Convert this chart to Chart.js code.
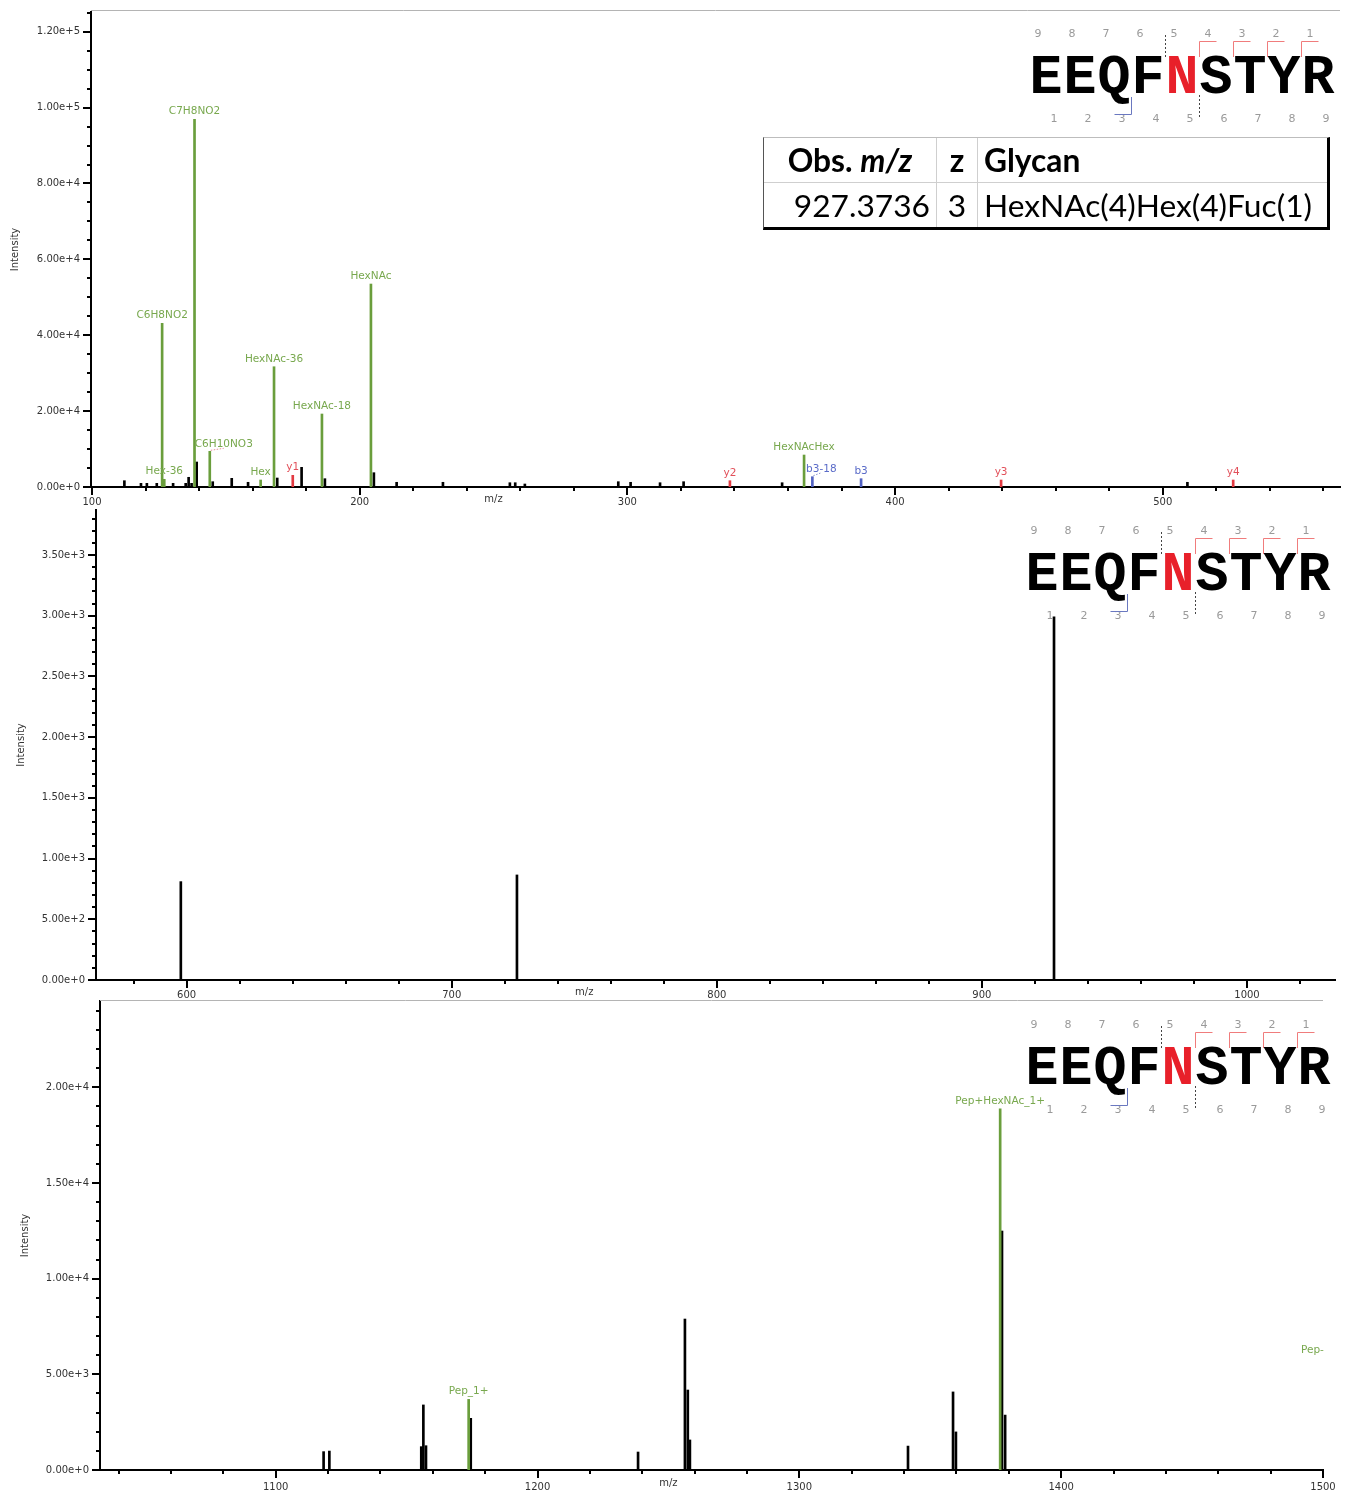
<!DOCTYPE html>
<html>
<head>
<meta charset="utf-8">
<title>EEQFNSTYR glycopeptide MS/MS spectrum</title>
<script src="https://cdn.jsdelivr.net/npm/chart.js@4.4.1/dist/chart.umd.min.js"></script>
<style>
  html, body { margin:0; padding:0; background:#fff; }
  body { width:1349px; height:1494px; position:relative; overflow:hidden; }
  canvas { position:absolute; left:0; }
  #tbl { position:absolute; left:763px; top:137px; width:567px; height:93px; box-sizing:border-box;
         border-top:1px solid #bdbdbd; border-left:1px solid #555; border-right:3px solid #000; border-bottom:3px solid #000;
         font-family: Lato, "Open Sans", sans-serif; color:#000; z-index:5; }
  #tbl .hl { position:absolute; left:0; right:0; top:44px; height:1px; background:#cfcfcf; }
  #tbl .vl { position:absolute; top:0; bottom:0; width:1px; background:#cfcfcf; }
  #tbl .cell { position:absolute; white-space:nowrap; height:44px; line-height:44px; }
  #tbl .h { font-weight:bold; }
</style>
</head>
<body>
<canvas id="c1" width="1349" height="510" style="top:0px"></canvas>
<canvas id="c2" width="1349" height="495" style="top:505px"></canvas>
<canvas id="c3" width="1349" height="498" style="top:996px"></canvas>
<div id="tbl">
  <div class="hl"></div>
  <div class="vl" style="left:172px"></div>
  <div class="vl" style="left:213px"></div>
  <div class="cell h" id="h1" style="left:0;width:172px;top:0;text-align:center"></div>
  <div class="cell h" id="h2" style="left:173px;width:40px;top:0;text-align:center"></div>
  <div class="cell h" id="h3" style="left:220px;top:0"></div>
  <div class="cell" id="d1" style="left:0;width:166px;top:45px;text-align:right"></div>
  <div class="cell" id="d2" style="left:173px;width:40px;top:45px;text-align:center"></div>
  <div class="cell" id="d3" style="left:220px;top:45px"><span id="d3s"></span></div>
</div>
<script>
// ---------------- data ----------------
// Peptide / identification
const peptideSeq = ['E','E','Q','F','N','S','T','Y','R'];
const glycoSite  = 4;            // N (0-based index)
const yIonsSeen  = [1, 2, 3, 4];
const bIonsSeen  = [3];
const tableHeaders = ['Obs. m/z', 'z', 'Glycan'];
const obsMz   = ['927.3736'];
const charge  = ['3'];
const glycan  = ['HexNAc(4)Hex(4)Fuc(1)'];

// Panel 1 (m/z 100-566)
const p1XTicks   = [100, 200, 300, 400, 500];
const p1YTicks   = [0, 20000, 40000, 60000, 80000, 100000, 120000];
const p1OtherMz  = [112.1,118.3,120.5,124.2,130.3,135.0,136.1,137.2,139.1,145.1,152.2,158.3,169.2,178.3,187.0,205.3,213.8,231.1,256.1,258.1,261.7,296.6,301.2,312.2,321.0,357.8,509.2];
const p1OtherInt = [1660,975,975,975,975,975,2560,975,6590,1400,2290,1240,2370,5190,2190,3770,1240,1240,1130,1130,790,1400,1240,1130,1400,1130,1240];
const p1GlyMz    = [126.2, 127.0, 138.3, 144.0, 163.0, 168.0, 185.9, 204.2, 366.0];
const p1GlyInt   = [43140, 2030, 96910, 9410, 1845, 31700, 19240, 53500, 8430];
const p1GlyLbl   = ['C6H8NO2','Hex-36','C7H8NO2','C6H10NO3','Hex','HexNAc-36','HexNAc-18','HexNAc','HexNAcHex'];
const p1YMz      = [175.0, 338.3, 439.6, 526.3];
const p1YInt     = [3080, 1660, 1845, 1845];
const p1YLbl     = ['y1','y2','y3','y4'];
const p1BMz      = [369.1, 387.3];
const p1BInt     = [2710, 2190];
const p1BLbl     = ['b3-18','b3'];

// Panel 2 (m/z 566-1033)
const p2XTicks   = [600, 700, 800, 900, 1000];
const p2YTicks   = [0, 500, 1000, 1500, 2000, 2500, 3000, 3500];
const p2OtherMz  = [597.8, 724.6, 927.2];
const p2OtherInt = [810, 865, 2990];

// Panel 3 (m/z 1033-1500)
const p3XTicks   = [1100, 1200, 1300, 1400, 1500];
const p3YTicks   = [0, 5000, 10000, 15000, 20000];
const p3OtherMz  = [1118.3,1120.5,1155.6,1156.4,1157.4,1174.5,1238.4,1256.3,1257.4,1258.2,1341.5,1358.7,1359.8,1377.4,1378.6];
const p3OtherInt = [960,990,1220,3400,1270,2700,940,7890,4180,1570,1250,4080,1990,12490,2870];
const p3GlyMz    = [1173.7, 1376.7];
const p3GlyInt   = [3690, 18870];
const p3GlyLbl   = ['Pep_1+', 'Pep+HexNAc_1+'];
const p3EdgeLbl  = ['Pep-'];
const p3EdgeMz   = [1491.6];
const p3EdgeInt  = [6270];

// ---------------- styles ----------------
const COL = {
  other: '#000000',
  gly: '#6a9e3c', glyText: '#78a84e',
  y: '#e23a42',   yText: '#e2505a',
  b: '#5262c2',   bText: '#5a6bc8'
};
const labelOffsets = {
  'C6H10NO3': { dx: 14, dy: 1, leader: '#e58f98' },
  'b3-18':    { dx: 9,  dy: 0, leader: '#8a94d0' }
};

Chart.defaults.font.family = '"DejaVu Sans", sans-serif';
Chart.defaults.font.size = 10;
Chart.defaults.color = '#333';

function drawPeptide(ctx, ox, oy) {
  const n = peptideSeq.length;
  const cx = i => 1046 + 34 * i + ox;
  ctx.save();
  ctx.textAlign = 'center';
  ctx.textBaseline = 'alphabetic';
  ctx.font = 'bold 55px "Liberation Mono"';
  peptideSeq.forEach((ch, i) => {
    ctx.fillStyle = i === glycoSite ? '#e8202a' : '#000';
    ctx.fillText(ch, cx(i), 93 + oy);
  });
  ctx.font = '11px "DejaVu Sans"';
  ctx.fillStyle = '#9a9a9a';
  ctx.textBaseline = 'middle';
  for (let i = 0; i < n; i++) {
    ctx.fillText(String(n - i), cx(i) - 8, 34 + oy);
    ctx.fillText(String(i + 1), cx(i) + 8, 119 + oy);
  }
  ctx.lineWidth = 1;
  ctx.strokeStyle = '#f07c7c';
  yIonsSeen.forEach(k => {
    const bx = Math.round(cx(n - k) - 17) + 0.5;
    ctx.beginPath(); ctx.moveTo(bx, 57 + oy); ctx.lineTo(bx, 41.5 + oy); ctx.lineTo(bx + 17, 41.5 + oy); ctx.stroke();
  });
  ctx.strokeStyle = '#6a78c0';
  bIonsSeen.forEach(k => {
    const bx = Math.round(cx(k) - 17) + 0.5;
    ctx.beginPath(); ctx.moveTo(bx, 97 + oy); ctx.lineTo(bx, 114.5 + oy); ctx.lineTo(bx - 17, 114.5 + oy); ctx.stroke();
  });
  ctx.strokeStyle = '#444';
  ctx.setLineDash([2, 2]);
  const tx = Math.round(cx(glycoSite) - 17) + 0.5;
  const bx2 = Math.round(cx(glycoSite) + 17) + 0.5;
  ctx.beginPath(); ctx.moveTo(tx, 35 + oy); ctx.lineTo(tx, 59 + oy); ctx.stroke();
  ctx.beginPath(); ctx.moveTo(bx2, 95 + oy); ctx.lineTo(bx2, 119 + oy); ctx.stroke();
  ctx.restore();
}

function makeDecor(p) {
  return {
    id: 'decor',
    afterDatasetsDraw(chart) {
      const { ctx, scales: { x, y } } = chart;
      ctx.save();
      ctx.font = '10.5px "DejaVu Sans"';
      ctx.textAlign = 'center';
      ctx.textBaseline = 'alphabetic';
      p.labelSets.forEach(s => {
        s.mz.forEach((m, i) => {
          const t = s.labels[i];
          const px = x.getPixelForValue(m), py = y.getPixelForValue(s.int[i]);
          const off = labelOffsets[t] || { dx: 0, dy: 0 };
          const lx = px + off.dx, ly = py - 5 + off.dy;
          if (off.leader) {
            ctx.save();
            ctx.strokeStyle = off.leader; ctx.lineWidth = 1; ctx.setLineDash([1.5, 1.5]);
            ctx.beginPath(); ctx.moveTo(px + 1, py - 1); ctx.lineTo(lx, ly + 1); ctx.stroke();
            ctx.restore();
          }
          ctx.fillStyle = s.color;
          ctx.fillText(t, lx, ly);
        });
      });
      if (p.edgeLabels) {
        ctx.textAlign = 'left';
        ctx.textBaseline = 'middle';
        ctx.fillStyle = COL.glyText;
        p.edgeLabels.labels.forEach((t, i) => {
          ctx.fillText(t, x.getPixelForValue(p.edgeLabels.mz[i]), y.getPixelForValue(p.edgeLabels.int[i]));
        });
      }
      ctx.restore();
    },
    afterDraw(chart) {
      const { ctx, chartArea: a, scales: { x, y } } = chart;
      ctx.save();
      ctx.strokeStyle = '#000';
      ctx.lineWidth = 2;
      // y ticks (major + minor)
      for (let v = 0; v <= y.max + 1e-6; v += p.yMinor) {
        const py = Math.round(y.getPixelForValue(v));
        const major = Math.abs(v / p.yStep - Math.round(v / p.yStep)) < 1e-6;
        const len = major ? 8 : 4;
        ctx.beginPath(); ctx.moveTo(a.left - len, py); ctx.lineTo(a.left, py); ctx.stroke();
      }
      // x ticks (major + minor)
      for (let v = Math.ceil(x.min / 20) * 20; v <= x.max + 1e-6; v += 20) {
        const px = Math.round(x.getPixelForValue(v));
        const major = v % 100 === 0;
        const len = major ? 8 : 4;
        ctx.beginPath(); ctx.moveTo(px, a.bottom); ctx.lineTo(px, a.bottom + len); ctx.stroke();
      }
      // top frame line
      if (p.topLine !== undefined) {
        ctx.strokeStyle = '#b4b4b4'; ctx.lineWidth = 1;
        ctx.beginPath(); ctx.moveTo(a.left, a.top - p.topLine + 0.5); ctx.lineTo(a.right, a.top - p.topLine + 0.5); ctx.stroke();
      }
      // x title
      ctx.fillStyle = '#333';
      ctx.font = '10px "DejaVu Sans"';
      ctx.textAlign = 'center';
      ctx.textBaseline = 'middle';
      ctx.fillText('m/z', x.getPixelForValue(p.titleAt), a.bottom + p.titleDy);
      ctx.restore();
      drawPeptide(ctx, p.pep[0], p.pep[1]);
    }
  };
}

function spectrum(id, p) {
  const datasets = p.series.map(s => ({
    label: s.name,
    data: s.mz.map((m, i) => ({ x: m, y: s.int[i] })),
    backgroundColor: s.color,
    borderWidth: 0,
    barThickness: 2,
    grouped: false,
    order: s.order
  }));
  return new Chart(document.getElementById(id), {
    type: 'bar',
    data: { datasets },
    options: {
      responsive: false,
      animation: false,
      devicePixelRatio: 1,
      events: [],
      layout: { padding: { left: 0, top: p.area.top, right: p.area.right, bottom: 0 } },
      plugins: { legend: { display: false }, tooltip: { enabled: false } },
      scales: {
        x: {
          type: 'linear', min: p.xMin, max: p.xMax, offset: false,
          grid: { display: false, drawTicks: false },
          border: { display: true, color: '#000', width: 2 },
          ticks: { autoSkip: false, maxRotation: 0, padding: p.xPad,
                   color: '#333', font: { size: 10 }, callback: v => String(v) },
          afterBuildTicks: s => { s.ticks = p.xTicks.map(v => ({ value: v })); },
          afterFit: s => { s.height = p.area.xh; s.paddingLeft = 0; s.paddingRight = 0; }
        },
        y: {
          type: 'linear', min: 0, max: p.yMax,
          grid: { display: false, drawTicks: false },
          border: { display: true, color: '#000', width: 2 },
          ticks: { padding: 11, color: '#333', font: { size: 10 },
                   callback: v => Number(v).toExponential(2) },
          afterBuildTicks: s => { s.ticks = p.yTicks.map(v => ({ value: v })); },
          title: { display: true, text: 'Intensity', color: '#333', font: { size: 10 }, padding: { top: p.yTitlePad, bottom: 0 } },
          afterFit: s => { s.width = p.area.left; s.paddingTop = 0; s.paddingBottom = 0; }
        }
      }
    },
    plugins: [makeDecor(p)]
  });
}

spectrum('c1', {
  area: { left: 91, top: 12, right: 9, xh: 23 },
  xMin: 99.63, xMax: 566.2, yMax: 125200, yStep: 20000, yMinor: 5000,
  xTicks: p1XTicks, yTicks: p1YTicks,
  xPad: 9, yTitlePad: 9, titleAt: 250, titleDy: 12, topLine: 2, pep: [0, 0],
  series: [
    { name: 'other', mz: p1OtherMz, int: p1OtherInt, color: COL.other, order: 4 },
    { name: 'glycan', mz: p1GlyMz, int: p1GlyInt, color: COL.gly, order: 1 },
    { name: 'y', mz: p1YMz, int: p1YInt, color: COL.y, order: 2 },
    { name: 'b', mz: p1BMz, int: p1BInt, color: COL.b, order: 3 }
  ],
  labelSets: [
    { mz: p1GlyMz, int: p1GlyInt, labels: p1GlyLbl, color: COL.glyText },
    { mz: p1YMz, int: p1YInt, labels: p1YLbl, color: COL.yText },
    { mz: p1BMz, int: p1BInt, labels: p1BLbl, color: COL.bText }
  ]
});

spectrum('c2', {
  area: { left: 96, top: 5, right: 14, xh: 20 },
  xMin: 565.8, xMax: 1033.2, yMax: 3870, yStep: 500, yMinor: 100,
  xTicks: p2XTicks, yTicks: p2YTicks,
  xPad: 9, yTitlePad: 15, titleAt: 750, titleDy: 12, pep: [-4, -8],
  series: [ { name: 'other', mz: p2OtherMz, int: p2OtherInt, color: COL.other, order: 1 } ],
  labelSets: []
});

spectrum('c3', {
  area: { left: 100, top: 5, right: 26, xh: 24 },
  xMin: 1032.9, xMax: 1500, yMax: 24510, yStep: 5000, yMinor: 1000,
  xTicks: p3XTicks, yTicks: p3YTicks,
  xPad: 11, yTitlePad: 19, titleAt: 1250, titleDy: 13, topLine: 1, pep: [-4, -5],
  series: [
    { name: 'other', mz: p3OtherMz, int: p3OtherInt, color: COL.other, order: 2 },
    { name: 'glycan', mz: p3GlyMz, int: p3GlyInt, color: COL.gly, order: 1 }
  ],
  labelSets: [ { mz: p3GlyMz, int: p3GlyInt, labels: p3GlyLbl, color: COL.glyText } ],
  edgeLabels: { labels: p3EdgeLbl, mz: p3EdgeMz, int: p3EdgeInt }
});

// ---------------- table ----------------
document.getElementById('h1').innerHTML = tableHeaders[0].replace('m/z', '<i>m/z</i>');
document.getElementById('h2').textContent = tableHeaders[1];
document.getElementById('h3').textContent = tableHeaders[2];
document.getElementById('d1').textContent = obsMz[0];
document.getElementById('d2').textContent = charge[0];
document.getElementById('d3s').textContent = glycan[0];
(function fitTable() {
  const s = document.getElementById('d3s');
  let fs = 32;
  s.parentNode.style.fontSize = fs + 'px';
  const w = s.getBoundingClientRect().width;
  fs = fs * 328 / w;
  document.querySelectorAll('#tbl .cell').forEach(c => c.style.fontSize = fs.toFixed(2) + 'px');
})();
</script>
</body>
</html>
